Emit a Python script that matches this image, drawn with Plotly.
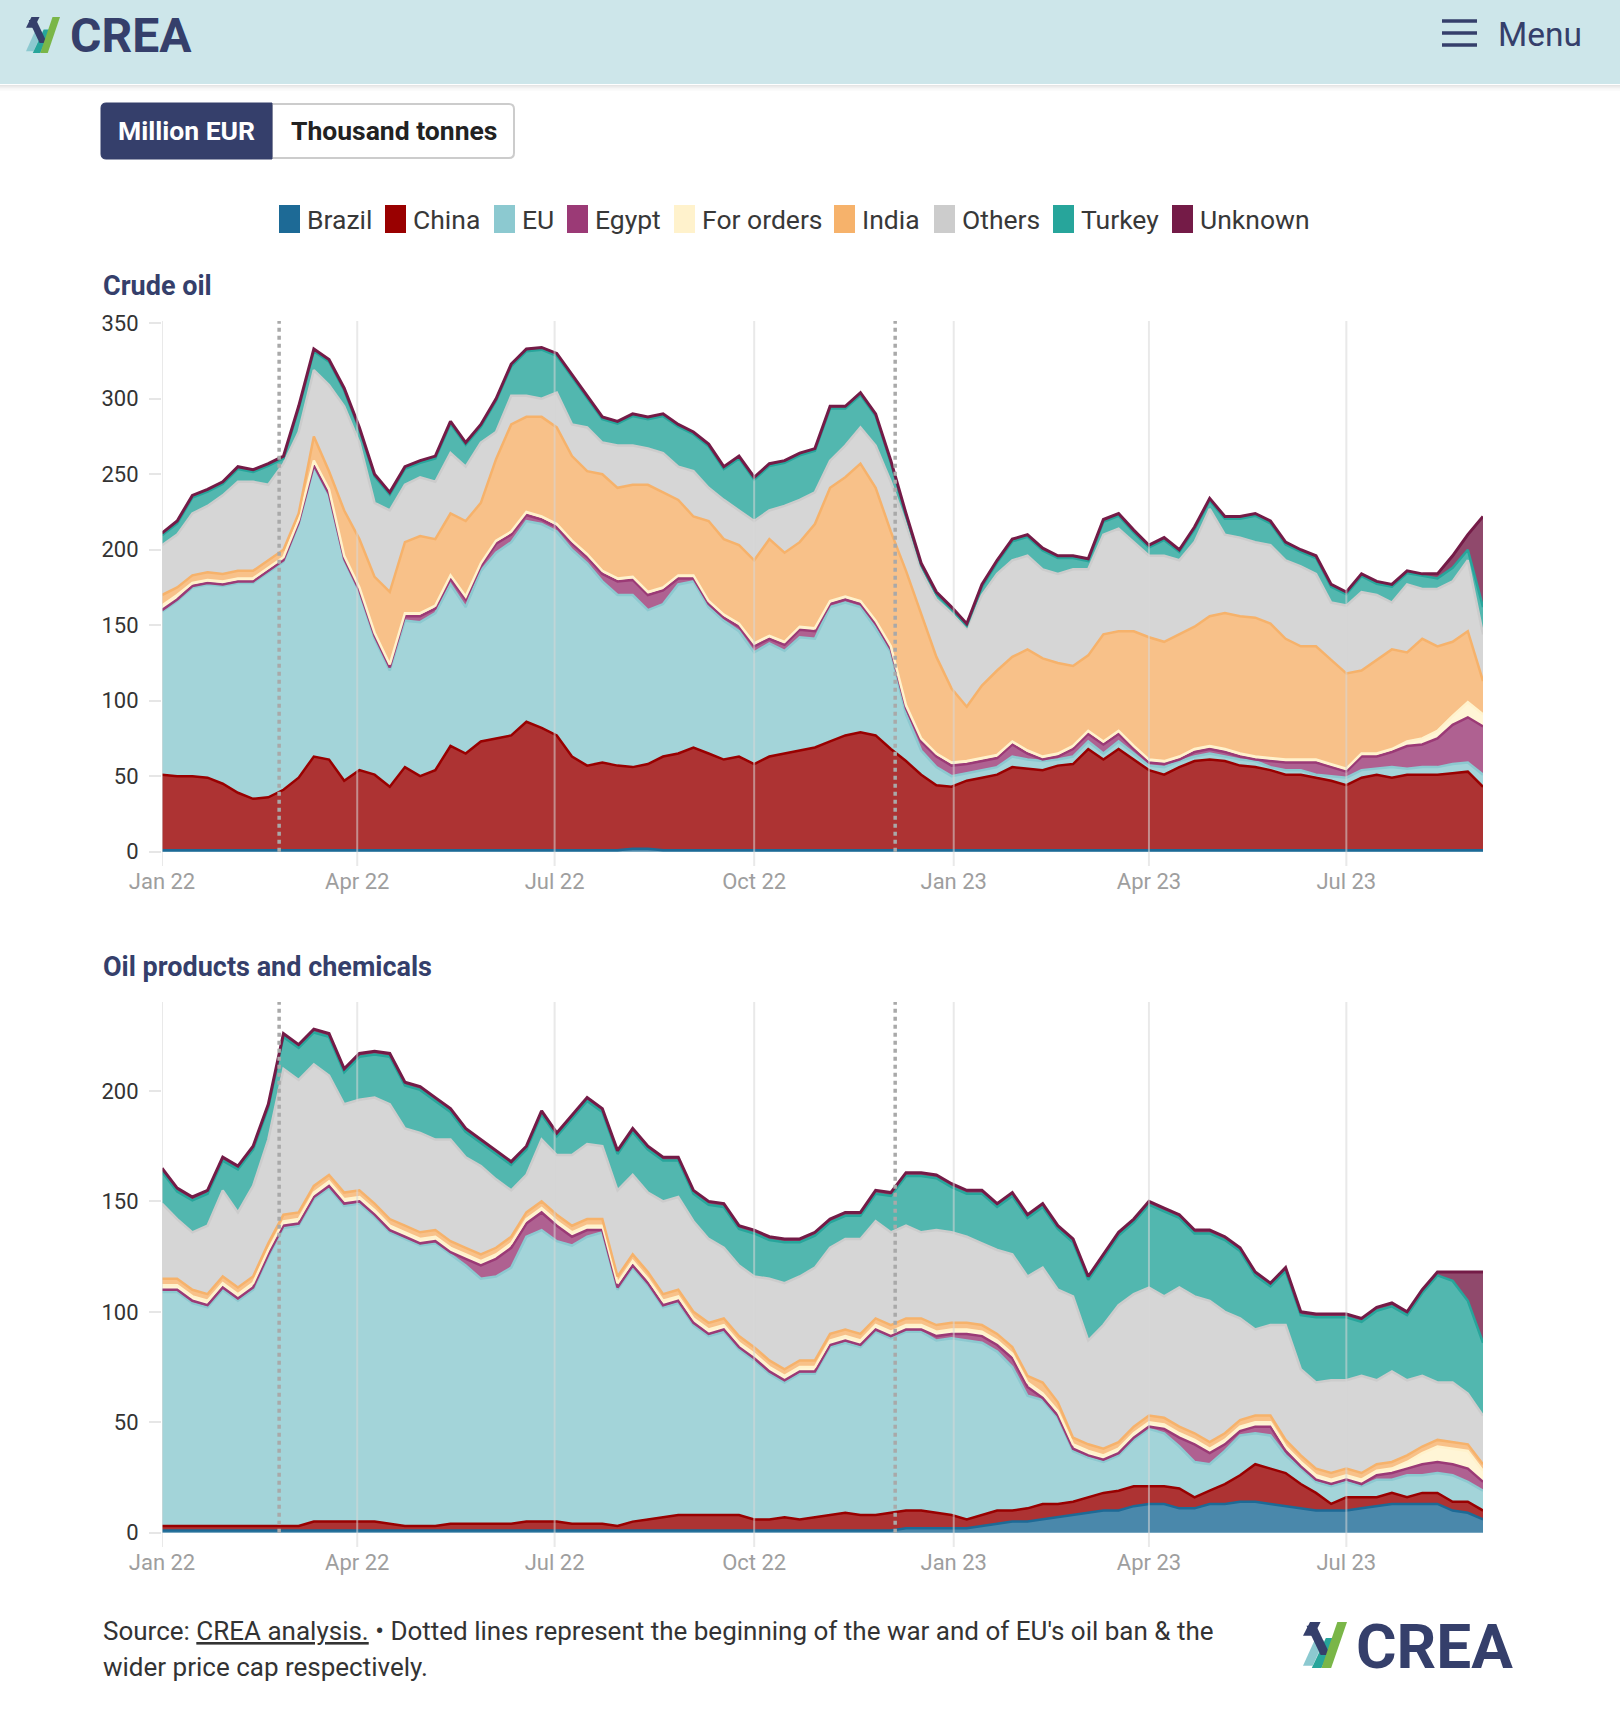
import plotly.graph_objects as go
import pandas as pd

W, H = 1620, 1713

# ---------------- data (weekly readings, Jan 2022 - Sep 2023) ----------------
dates = pd.date_range("2022-01-01", periods=88, freq="7D")
tick_dates = ["2022-01-01", "2022-04-01", "2022-07-01", "2022-10-01",
              "2023-01-01", "2023-04-01", "2023-07-01"]
tick_labels = ["Jan 22", "Apr 22", "Jul 22", "Oct 22", "Jan 23", "Apr 23", "Jul 23"]
event_dates = ["2022-02-24", "2022-12-05"]

countries = ["Brazil", "China", "EU", "Egypt", "For orders", "India", "Others", "Turkey", "Unknown"]

# Crude oil, million EUR per day
crude_brazil = [1, 1, 1, 1, 1, 1, 1, 1, 1, 1,
                1, 1, 1, 1, 1, 1, 1, 1, 1, 1,
                1, 1, 1, 1, 1, 1, 1, 1, 1, 1,
                1, 2, 2, 1, 1, 1, 1, 1, 1, 1,
                1, 1, 1, 1, 1, 1, 1, 1, 1, 1,
                1, 1, 1, 1, 1, 1, 1, 1, 1, 1,
                1, 1, 1, 1, 1, 1, 1, 1, 1, 1,
                1, 1, 1, 1, 1, 1, 1, 1, 1, 1,
                1, 1, 1, 1, 1, 1, 1, 1]
crude_china = [50, 49, 49, 48, 44, 38, 34, 35, 40, 48,
               62, 60, 46, 53, 50, 42, 55, 49, 53, 69,
               64, 72, 74, 76, 85, 81, 76, 62, 56, 58,
               56, 54, 56, 62, 64, 68, 64, 60, 62, 57,
               62, 64, 66, 68, 72, 76, 78, 76, 67, 59,
               50, 43, 42, 46, 48, 50, 55, 54, 53, 56,
               57, 67, 60, 67, 60, 53, 50, 55, 59, 60,
               59, 56, 55, 53, 50, 50, 48, 46, 43, 48,
               50, 48, 50, 50, 50, 51, 52, 42]
crude_eu = [108, 116, 125, 128, 131, 139, 143, 149, 151, 168,
            192, 175, 146, 118, 90, 77, 97, 102, 104, 107,
            97, 113, 123, 128, 133, 135, 135, 137, 134, 120,
            113, 114, 102, 101, 112, 110, 97, 92, 83, 74,
            75, 68, 75, 72, 89, 88, 83, 71, 64, 31,
            16, 12, 7, 5, 5, 5, 7, 6, 6, 4,
            5, 5, 4, 5, 4, 3, 5, 4, 3, 4,
            3, 4, 4, 2, 3, 3, 2, 3, 5, 5,
            4, 7, 4, 5, 5, 6, 6, 8]
crude_egypt = [1, 1, 1, 1, 1, 1, 1, 1, 1, 1,
               1, 1, 1, 1, 2, 2, 3, 4, 3, 4,
               5, 3, 6, 5, 4, 3, 3, 4, 4, 5,
               9, 10, 10, 9, 4, 2, 2, 2, 3, 4,
               3, 4, 5, 5, 2, 2, 2, 3, 2, 4,
               6, 7, 7, 6, 6, 6, 8, 4, 1, 2,
               5, 5, 6, 5, 3, 2, 2, 1, 3, 3,
               3, 2, 1, 4, 5, 5, 8, 6, 4, 9,
               8, 10, 15, 15, 19, 26, 30, 32]
crude_for_orders = [3, 3, 2, 2, 2, 2, 2, 2, 2, 2,
                    3, 3, 2, 2, 2, 2, 2, 2, 2, 2,
                    2, 2, 2, 2, 2, 2, 2, 2, 2, 2,
                    2, 2, 2, 2, 2, 2, 2, 2, 2, 2,
                    2, 2, 2, 2, 2, 2, 2, 2, 2, 2,
                    2, 2, 2, 2, 2, 2, 2, 2, 2, 2,
                    2, 2, 2, 2, 2, 2, 2, 2, 2, 2,
                    2, 2, 2, 2, 2, 2, 2, 2, 2, 2,
                    2, 2, 3, 4, 5, 6, 10, 8]
crude_india = [7, 5, 5, 5, 5, 5, 5, 5, 5, 4,
               16, 12, 30, 32, 37, 48, 47, 51, 44, 41,
               50, 40, 54, 71, 63, 66, 64, 56, 55, 64,
               60, 61, 71, 63, 50, 39, 53, 50, 52, 55,
               64, 59, 56, 69, 75, 79, 91, 88, 76, 89,
               83, 64, 49, 36, 48, 56, 56, 67, 65, 60,
               53, 50, 71, 66, 76, 81, 79, 81, 81, 86,
               90, 91, 92, 89, 80, 75, 75, 69, 63, 55,
               62, 66, 59, 66, 56, 49, 47, 22]
crude_others = [33, 35, 41, 44, 52, 59, 59, 50, 57, 54,
                44, 57, 69, 64, 49, 54, 38, 39, 38, 40,
                36, 40, 18, 19, 14, 12, 23, 21, 29, 21,
                28, 26, 24, 26, 22, 30, 22, 26, 23, 26,
                19, 31, 28, 21, 18, 21, 24, 28, 33, 31,
                28, 38, 50, 52, 60, 64, 64, 62, 59, 59,
                64, 57, 66, 68, 59, 54, 57, 49, 56, 71,
                52, 52, 50, 52, 52, 53, 48, 38, 45, 52,
                43, 31, 45, 33, 38, 40, 47, 31]
crude_turkey = [6.5, 7.5, 10.5, 9.5, 7.5, 8.5, 6.5, 12.5, 3.5, 15.5,
                12.5, 15.5, 10.5, 8.5, 17.5, 10.5, 10.5, 9.5, 15.5, 19.5,
                14.5, 10.5, 20.5, 19.5, 29.5, 32.5, 24.5, 31.5, 19.5, 15.5,
                14.5, 19.5, 19.5, 24.5, 26.5, 24.5, 27.5, 20.5, 34.5, 27.5,
                29.5, 28.5, 29.5, 27.5, 34.5, 24.5, 21.5, 19.5, 12.5, 5.5,
                3.5, 3.5, 2.5, 1.5, 5.5, 7.5, 12.5, 12.5, 12.5, 10.5,
                7.5, 5.5, 8.5, 8.5, 6.5, 5.5, 10.5, 5.5, 8.5, 5.5,
                10.5, 12.5, 17.5, 14.5, 10.5, 9.5, 10.5, 10.5, 7.5, 10.5,
                7.5, 10.5, 7.5, 8.5, 7, 9, 7, 18]
crude_unknown = [1.5, 1.5, 1.5, 1.5, 1.5, 1.5, 1.5, 1.5, 1.5, 1.5,
                 1.5, 1.5, 1.5, 1.5, 1.5, 1.5, 1.5, 1.5, 1.5, 1.5,
                 1.5, 1.5, 1.5, 1.5, 1.5, 1.5, 1.5, 1.5, 1.5, 1.5,
                 1.5, 1.5, 1.5, 1.5, 1.5, 1.5, 1.5, 1.5, 1.5, 1.5,
                 1.5, 1.5, 1.5, 1.5, 1.5, 1.5, 1.5, 1.5, 1.5, 1.5,
                 1.5, 1.5, 1.5, 1.5, 1.5, 1.5, 1.5, 1.5, 1.5, 1.5,
                 1.5, 1.5, 1.5, 1.5, 1.5, 1.5, 1.5, 1.5, 1.5, 1.5,
                 1.5, 1.5, 1.5, 1.5, 1.5, 1.5, 1.5, 1.5, 1.5, 1.5,
                 1.5, 1.5, 1.5, 1.5, 3, 8, 10, 60]

# Oil products and chemicals, million EUR per day
prod_brazil = [1, 1, 1, 1, 1, 1, 1, 1, 1, 1,
               1, 1, 1, 1, 1, 1, 1, 1, 1, 1,
               1, 1, 1, 1, 1, 1, 1, 1, 1, 1,
               1, 1, 1, 1, 1, 1, 1, 1, 1, 1,
               1, 1, 1, 1, 1, 1, 1, 1, 1, 2,
               2, 2, 2, 2, 3, 4, 5, 5, 6, 7,
               8, 9, 10, 10, 12, 13, 13, 11, 11, 13,
               13, 14, 14, 13, 12, 11, 10, 10, 10, 11,
               12, 13, 13, 13, 13, 10, 9, 6]
prod_china = [2, 2, 2, 2, 2, 2, 2, 2, 2, 2,
              4, 4, 4, 4, 4, 3, 2, 2, 2, 3,
              3, 3, 3, 3, 4, 4, 4, 3, 3, 3,
              2, 4, 5, 6, 7, 7, 7, 7, 7, 5,
              5, 6, 5, 6, 7, 8, 7, 7, 8, 8,
              8, 7, 6, 4, 5, 6, 5, 6, 7, 6,
              6, 7, 8, 9, 9, 8, 8, 9, 5, 6,
              9, 12, 17, 16, 15, 11, 8, 3, 6, 5,
              4, 5, 3, 5, 5, 4, 5, 4]
prod_eu = [106, 106, 101, 99, 107, 102, 107, 122, 135, 136,
           146, 151, 143, 144, 138, 132, 130, 127, 128, 122,
           117, 111, 112, 116, 129, 132, 127, 126, 130, 132,
           107, 115, 106, 95, 96, 86, 81, 83, 75, 72,
           66, 61, 66, 65, 76, 77, 76, 83, 79, 81,
           81, 78, 80, 81, 78, 72, 65, 51, 47, 39,
           23, 18, 14, 16, 21, 26, 24, 19, 16, 12,
           15, 18, 14, 15, 8, 7, 5, 8, 7, 5,
           8, 6, 10, 8, 9, 12, 9, 9]
prod_egypt = [1, 1, 1, 1, 1, 1, 1, 1, 1, 1,
              1, 1, 1, 1, 1, 1, 1, 1, 1, 1,
              3, 6, 8, 9, 6, 8, 7, 4, 3, 1,
              1, 1, 1, 1, 1, 1, 1, 1, 1, 1,
              1, 1, 1, 1, 1, 1, 1, 1, 1, 1,
              1, 2, 2, 3, 3, 3, 4, 4, 1, 1,
              1, 1, 1, 1, 1, 1, 2, 4, 8, 5,
              3, 2, 3, 4, 2, 1, 1, 1, 1, 1,
              2, 3, 3, 5, 5, 5, 6, 4]
prod_for_orders = [2, 2, 2, 2, 2, 2, 2, 2, 2, 2,
                   2, 2, 2, 2, 2, 2, 2, 2, 2, 2,
                   2, 2, 2, 2, 2, 2, 2, 2, 2, 2,
                   2, 2, 2, 2, 2, 2, 2, 2, 2, 2,
                   2, 2, 2, 2, 2, 2, 2, 2, 2, 2,
                   2, 2, 2, 2, 2, 2, 2, 2, 2, 2,
                   2, 2, 2, 2, 2, 2, 2, 2, 2, 2,
                   2, 2, 2, 2, 2, 2, 2, 2, 2, 2,
                   2, 2, 3, 5, 7, 7, 8, 5]
prod_india = [3, 3, 3, 3, 3, 3, 3, 3, 3, 3,
              3, 3, 3, 3, 3, 3, 3, 3, 3, 3,
              3, 3, 3, 3, 3, 3, 3, 3, 3, 3,
              3, 3, 3, 3, 3, 3, 3, 3, 3, 3,
              3, 3, 3, 3, 3, 3, 3, 3, 3, 3,
              3, 3, 3, 3, 3, 3, 3, 3, 5, 4,
              3, 3, 3, 3, 3, 3, 3, 3, 3, 3,
              3, 3, 3, 3, 3, 3, 3, 3, 3, 3,
              3, 3, 3, 3, 3, 3, 3, 3]
prod_others = [34, 27, 26, 31, 39, 34, 41, 47, 66, 60,
               55, 45, 40, 41, 48, 52, 44, 45, 41, 46,
               41, 40, 31, 21, 17, 28, 27, 32, 34, 33,
               39, 36, 36, 42, 42, 41, 38, 32, 32, 32,
               37, 39, 38, 42, 39, 41, 43, 44, 42, 42,
               39, 43, 41, 39, 37, 38, 42, 45, 52, 51,
               64, 47, 56, 62, 60, 58, 55, 63, 62, 64,
               55, 46, 39, 41, 52, 39, 39, 42, 40, 44,
               38, 41, 34, 32, 26, 27, 23, 22]
prod_turkey = [14.5, 12.5, 14.5, 14.5, 13.5, 19.5, 16.5, 14.5, 14.5, 14.5,
               14.5, 17.5, 14.5, 19.5, 19.5, 21.5, 19.5, 19.5, 17.5, 12.5,
               11.5, 10.5, 11.5, 11.5, 11.5, 11.5, 8.5, 16.5, 19.5, 15.5,
               16.5, 19.5, 19.5, 18.5, 16.5, 12.5, 15.5, 18.5, 16.5, 19.5,
               17.5, 18.5, 15.5, 14.5, 11.5, 10.5, 10.5, 12.5, 16.5, 22.5,
               25.5, 23.5, 20.5, 19.5, 22.5, 19.5, 26.5, 26.5, 27.5, 27.5,
               24.5, 27.5, 30.5, 31.5, 32.5, 37.5, 38.5, 31.5, 28.5, 30.5,
               32.5, 30.5, 24.5, 17.5, 24.5, 24.5, 29.5, 28.5, 28.5, 24.5,
               31.5, 29.5, 29.5, 37.5, 48.5, 46, 42, 33]
prod_unknown = [1.5, 1.5, 1.5, 1.5, 1.5, 1.5, 1.5, 1.5, 1.5, 1.5,
                1.5, 1.5, 1.5, 1.5, 1.5, 1.5, 1.5, 1.5, 1.5, 1.5,
                1.5, 1.5, 1.5, 1.5, 1.5, 1.5, 1.5, 1.5, 1.5, 1.5,
                1.5, 1.5, 1.5, 1.5, 1.5, 1.5, 1.5, 1.5, 1.5, 1.5,
                1.5, 1.5, 1.5, 1.5, 1.5, 1.5, 1.5, 1.5, 1.5, 1.5,
                1.5, 1.5, 1.5, 1.5, 1.5, 1.5, 1.5, 1.5, 1.5, 1.5,
                1.5, 1.5, 1.5, 1.5, 1.5, 1.5, 1.5, 1.5, 1.5, 1.5,
                1.5, 1.5, 1.5, 1.5, 1.5, 1.5, 1.5, 1.5, 1.5, 1.5,
                1.5, 1.5, 1.5, 1.5, 1.5, 4, 13, 32]

crude = [crude_brazil, crude_china, crude_eu, crude_egypt, crude_for_orders,
         crude_india, crude_others, crude_turkey, crude_unknown]
prod = [prod_brazil, prod_china, prod_eu, prod_egypt, prod_for_orders,
        prod_india, prod_others, prod_turkey, prod_unknown]
for s in crude + prod:
    assert len(s) == len(dates), len(s)

# ---------------- styling ----------------
colors = ["#1d6a96", "#990000", "#8cc9d0", "#9b3a76", "#fff2cc",
          "#f6b26b", "#cccccc", "#27a59b", "#741b47"]
NAVY = "#353f6b"
FONT = "Roboto"


def rgba(hx, a):
    hx = hx.lstrip("#")
    r, g, b = int(hx[0:2], 16), int(hx[2:4], 16), int(hx[4:6], 16)
    return f"rgba({r},{g},{b},{a})"


def px(x):
    return x / W


def py(y):
    return 1 - y / H


fig = go.Figure()

for series_set, xa, ya, grp in [(crude, "x", "y", "crude"), (prod, "x2", "y2", "prod")]:
    # filled, stacked areas
    for name, vals, col in zip(countries, series_set, colors):
        fig.add_trace(go.Scatter(
            x=dates, y=vals, name=name, stackgroup=grp, mode="lines",
            line=dict(color=rgba(col, 0.8), width=0.5),
            fillcolor=rgba(col, 0.8), xaxis=xa, yaxis=ya,
            showlegend=False, hoverinfo="skip"))
    # the same stack, drawn again as outlines on top of all fills
    for name, vals, col in zip(countries, series_set, colors):
        fig.add_trace(go.Scatter(
            x=dates, y=vals, name=name, stackgroup=grp + "_edges", fill="none",
            mode="lines", line=dict(color=col, width=3 if name == "Unknown" else 2.5),
            xaxis=xa, yaxis=ya, showlegend=False, hoverinfo="skip"))

# plot geometry (pixels)
XL, XR = 162, 1483
TOP_Y0, TOP_Y1 = 321, 866
BOT_Y0, BOT_Y1 = 1002, 1547

xcommon = dict(type="date", range=["2022-01-01", "2023-09-02"],
               tickvals=tick_dates, ticktext=tick_labels,
               tickfont=dict(family=FONT, size=22, color="#9e9e9e"),
               showgrid=False, zeroline=False, showline=False, ticks="",
               fixedrange=True, automargin=False)
ycommon = dict(ticks="outside", ticklen=12, tickwidth=2, tickcolor="#e6e6e6",
               tickfont=dict(family=FONT, size=22, color="#333333"),
               showgrid=False, zeroline=False, showline=False, fixedrange=True,
               ticklabelstandoff=6, automargin=False)

layout = dict(
    width=W, height=H, margin=dict(l=0, r=0, t=0, b=0, pad=0, autoexpand=False),
    paper_bgcolor="white", plot_bgcolor="white", showlegend=False,
    hovermode=False,
    xaxis=dict(domain=[px(XL), px(XR)], anchor="y", **xcommon),
    xaxis2=dict(domain=[px(XL), px(XR)], anchor="y2", **xcommon),
    yaxis=dict(domain=[py(TOP_Y1), py(TOP_Y0)], anchor="x", range=[-9.5, 351.5],
               tickvals=[0, 50, 100, 150, 200, 250, 300, 350], **ycommon),
    yaxis2=dict(domain=[py(BOT_Y1), py(BOT_Y0)], anchor="x2", range=[-6.5, 240.3],
                tickvals=[0, 50, 100, 150, 200], **ycommon),
)
fig.update_layout(**layout)

shapes = []
annotations = []

# header band with soft shadow
shapes.append(dict(type="rect", xref="paper", yref="paper", x0=0, x1=1, y0=py(84), y1=1,
                   fillcolor="#cde6ea", line_width=0, layer="below"))
for i, a in enumerate([0.10, 0.06, 0.035, 0.015]):
    shapes.append(dict(type="rect", xref="paper", yref="paper", x0=0, x1=1,
                       y0=py(85 + 1.5 * i + 1.5), y1=py(85 + 1.5 * i),
                       fillcolor=f"rgba(0,0,0,{a})", line_width=0, layer="below"))


def poly(pts):
    s = "M " + " L ".join(f"{px(x):.5f},{py(y):.5f}" for x, y in pts) + " Z"
    return s


def logo(bx, by, bw, bh):
    def P(u, v):
        return (bx + u * bw, by + v * bh)
    parts = [
        ("#8cc9d0", [P(0.0, 0.95), P(0.26, 0.40), P(0.48, 0.40), P(0.22, 0.95)]),
        (NAVY, [P(0.0, 0.30), P(0.16, 0.0), P(0.40, 0.0), P(0.24, 0.30)]),
        ("#27a59b", [P(0.20, 1.0), P(0.52, 0.35), P(0.74, 0.35), P(0.42, 1.0)]),
        (NAVY, [P(0.08, 0.08), P(0.30, 0.08), P(0.62, 0.72), P(0.40, 0.72)]),
        ("#7ab648", [P(0.42, 1.0), P(0.78, 0.0), P(1.0, 0.0), P(0.64, 1.0)]),
    ]
    out = []
    for col, pts in parts:
        out.append(dict(type="path", xref="paper", yref="paper", path=poly(pts),
                        fillcolor=col, line_width=0, layer="above"))
    return out


shapes += logo(26, 17, 34, 36)
annotations.append(dict(xref="paper", yref="paper", x=px(68), y=py(36), xanchor="left",
                        yanchor="middle", text="<b>CREA</b>", showarrow=False,
                        font=dict(family=FONT, size=48, color=NAVY)))

# menu
for yy in [21, 33, 45]:
    shapes.append(dict(type="line", xref="paper", yref="paper", x0=px(1442), x1=px(1477),
                       y0=py(yy), y1=py(yy), line=dict(color=NAVY, width=3.5)))
annotations.append(dict(xref="paper", yref="paper", x=px(1496), y=py(35), xanchor="left",
                        yanchor="middle", text="Menu", showarrow=False,
                        font=dict(family=FONT, size=33.5, color=NAVY)))


def rrect(x0, y0, x1, y1, rl, rr):
    pts = [f"M {px(x0 + rl):.5f},{py(y0):.5f}",
           f"L {px(x1 - rr):.5f},{py(y0):.5f}",
           f"Q {px(x1):.5f},{py(y0):.5f} {px(x1):.5f},{py(y0 + rr):.5f}",
           f"L {px(x1):.5f},{py(y1 - rr):.5f}",
           f"Q {px(x1):.5f},{py(y1):.5f} {px(x1 - rr):.5f},{py(y1):.5f}",
           f"L {px(x0 + rl):.5f},{py(y1):.5f}",
           f"Q {px(x0):.5f},{py(y1):.5f} {px(x0):.5f},{py(y1 - rl):.5f}",
           f"L {px(x0):.5f},{py(y0 + rl):.5f}",
           f"Q {px(x0):.5f},{py(y0):.5f} {px(x0 + rl):.5f},{py(y0):.5f}", "Z"]
    return " ".join(pts)


# unit toggle buttons
shapes.append(dict(type="path", xref="paper", yref="paper", path=rrect(272, 104, 514, 158, 0, 5),
                   fillcolor="white", line=dict(color="#cccccc", width=2)))
shapes.append(dict(type="path", xref="paper", yref="paper", path=rrect(101, 103, 272, 159, 5, 0),
                   fillcolor=NAVY, line=dict(color=NAVY, width=1)))
annotations.append(dict(xref="paper", yref="paper", x=px(186.5), y=py(131), xanchor="center",
                        yanchor="middle", text="<b>Million EUR</b>", showarrow=False,
                        font=dict(family=FONT, size=26.5, color="white")))
annotations.append(dict(xref="paper", yref="paper", x=px(393.5), y=py(131), xanchor="center",
                        yanchor="middle", text="<b>Thousand tonnes</b>", showarrow=False,
                        font=dict(family=FONT, size=26.5, color="#222222")))

# legend
legend_x = [279, 385, 494, 567, 674, 834, 934, 1053, 1172]
for name, col, lx in zip(countries, colors, legend_x):
    shapes.append(dict(type="rect", xref="paper", yref="paper", x0=px(lx), x1=px(lx + 21),
                       y0=py(233), y1=py(205), fillcolor=col, line_width=0))
    annotations.append(dict(xref="paper", yref="paper", x=px(lx + 26), y=py(219.5),
                            xanchor="left", yanchor="middle", text=name, showarrow=False,
                            font=dict(family=FONT, size=26.5, color="#383838")))

# chart titles
annotations.append(dict(xref="paper", yref="paper", x=px(101), y=py(286), xanchor="left",
                        yanchor="middle", text="<b>Crude oil</b>", showarrow=False,
                        font=dict(family=FONT, size=27, color=NAVY)))
annotations.append(dict(xref="paper", yref="paper", x=px(101), y=py(967), xanchor="left",
                        yanchor="middle", text="<b>Oil products and chemicals</b>", showarrow=False,
                        font=dict(family=FONT, size=27, color=NAVY)))

# vertical gridlines (drawn faintly over the areas) and event lines
for xa, ya, ytop in [("x", "y", 351.5), ("x2", "y2", 240.3)]:
    for d in tick_dates:
        shapes.append(dict(type="line", xref=xa, yref=f"{ya} domain", x0=d, x1=d, y0=0, y1=1,
                           line=dict(color="rgba(215,215,215,0.55)", width=2), layer="above"))
    for d in event_dates:
        shapes.append(dict(type="line", xref=xa, yref=ya, x0=d, x1=d, y0=0, y1=ytop,
                           line=dict(color="#a9a9a9", width=3.5, dash="4px,4px"), layer="above"))

# source note
annotations.append(dict(xref="paper", yref="paper", x=px(101), y=py(1631), xanchor="left",
                        yanchor="middle",
                        text="Source: <u>CREA analysis.</u> \u2022 Dotted lines represent the beginning of the war and of EU's oil ban & the",
                        showarrow=False, font=dict(family=FONT, size=26, color="#333333")))
annotations.append(dict(xref="paper", yref="paper", x=px(101), y=py(1667), xanchor="left",
                        yanchor="middle", text="wider price cap respectively.",
                        showarrow=False, font=dict(family=FONT, size=26, color="#333333")))

# footer logo
shapes += logo(1303, 1622, 44, 46)
annotations.append(dict(xref="paper", yref="paper", x=px(1354), y=py(1646), xanchor="left",
                        yanchor="middle", text="<b>CREA</b>", showarrow=False,
                        font=dict(family=FONT, size=62, color=NAVY)))

fig.update_layout(shapes=shapes, annotations=annotations)

fig.write_html("out.html", config={"displayModeBar": False, "staticPlot": True},
               post_script="document.body.style.margin='0';document.body.style.overflow='hidden';")
